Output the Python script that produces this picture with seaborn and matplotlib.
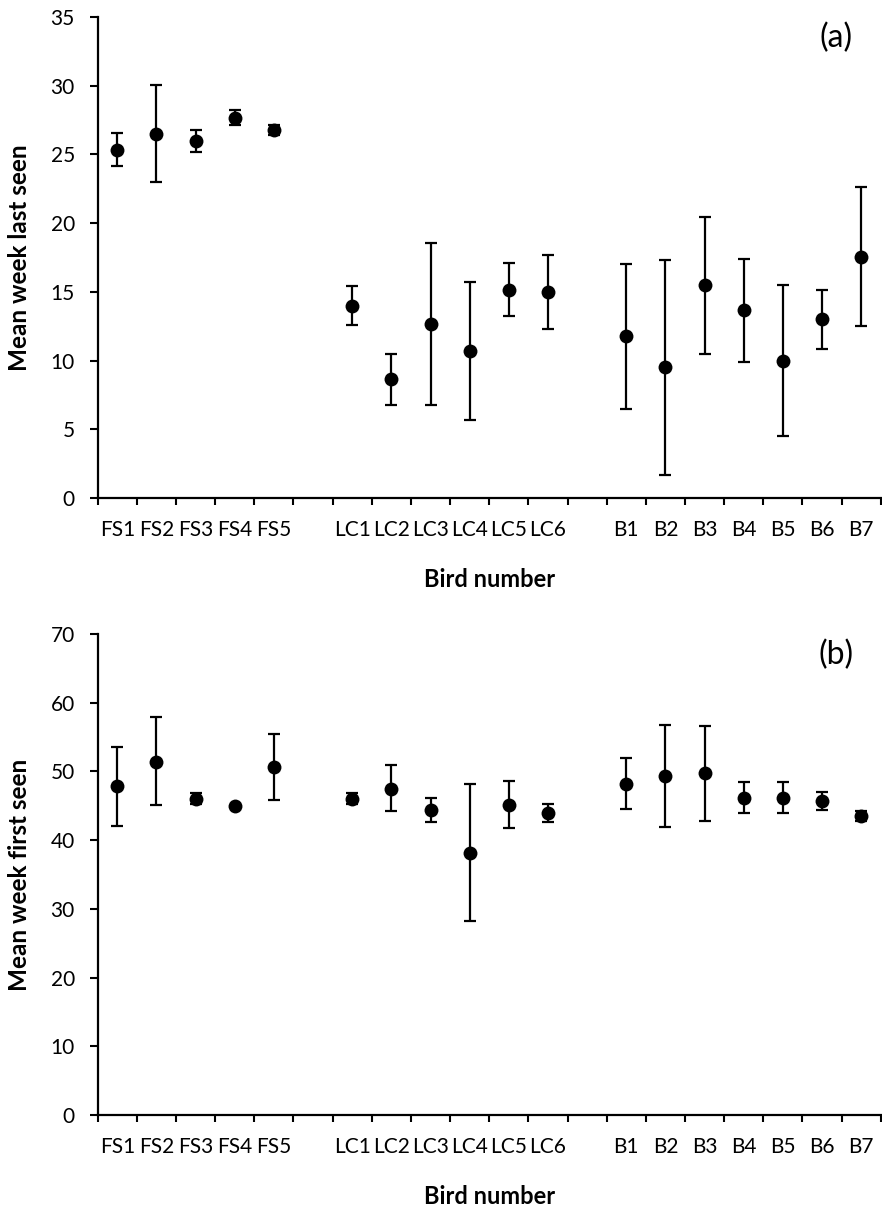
import numpy as np
import pandas as pd
import matplotlib
matplotlib.use('Agg')
import matplotlib.pyplot as plt
import seaborn as sns

# ------------------------------------------------------------
# DATA
# ------------------------------------------------------------
groups = [
    ["FS1", "FS2", "FS3", "FS4", "FS5"],
    ["LC1", "LC2", "LC3", "LC4", "LC5", "LC6"],
    ["B1", "B2", "B3", "B4", "B5", "B6", "B7"],
]

# (a) mean week last seen
last_mean  = [25.3, 26.5, 26.0, 27.65, 26.8,
              14.0, 8.65, 12.65, 10.7, 15.15, 15.0,
              11.8, 9.5, 15.5, 13.65, 10.0, 13.0, 17.55]
last_upper = [26.55, 30.05, 26.8, 28.25, 27.15,
              15.45, 10.5, 18.55, 15.7, 17.1, 17.7,
              17.05, 17.3, 20.45, 17.4, 15.5, 15.15, 22.6]
last_lower = [24.15, 23.0, 25.2, 27.15, 26.45,
              12.6, 6.8, 6.8, 5.7, 13.25, 12.3,
              6.5, 1.7, 10.5, 9.9, 4.5, 10.85, 12.55]

# (b) mean week first seen
first_mean  = [47.85, 51.4, 46.05, 45.0, 50.6,
               46.05, 47.5, 44.4, 38.15, 45.15, 43.9,
               48.2, 49.4, 49.75, 46.2, 46.2, 45.7, 43.55]
first_upper = [53.6, 57.95, 46.9, 45.0, 55.45,
               46.9, 50.95, 46.1, 48.2, 48.55, 45.2,
               51.95, 56.8, 56.65, 48.4, 48.4, 47.05, 44.3]
first_lower = [42.05, 45.15, 45.2, 45.0, 45.85,
               45.2, 44.3, 42.7, 28.3, 41.75, 42.7,
               44.55, 41.85, 42.8, 44.0, 44.0, 44.45, 42.8]

# slot positions: one empty slot between the groups
labels, slots = [], []
slot = 0
for g in groups:
    for name in g:
        labels.append(name)
        slots.append(slot)
        slot += 1
    slot += 1
n_slots = slot - 1  # 20

df = pd.DataFrame({
    "bird": labels,
    "pos": slots,
    "last": last_mean, "last_hi": last_upper, "last_lo": last_lower,
    "first": first_mean, "first_hi": first_upper, "first_lo": first_lower,
})

# ------------------------------------------------------------
# FIGURE
# ------------------------------------------------------------
sns.set_theme(style="white")
plt.rcParams['font.family'] = ['Lato', 'DejaVu Sans']
plt.rcParams['text.color'] = 'black'
plt.rcParams['axes.labelcolor'] = 'black'
plt.rcParams['xtick.color'] = 'black'
plt.rcParams['ytick.color'] = 'black'

fig = plt.figure(figsize=(8.82, 12.09), dpi=100)
ax_a = fig.add_axes([0.1108, 0.5881, 0.8878, 0.3978])
ax_b = fig.add_axes([0.1108, 0.0778, 0.8878, 0.3978])

panels = [
    (ax_a, "last", 35, 5, "Mean week last seen", "(a)"),
    (ax_b, "first", 70, 10, "Mean week first seen", "(b)"),
]

for ax, col, ymax, step, ylab, tag in panels:
    x = df["pos"] + 0.5
    yerr = np.vstack([df[col] - df[col + "_lo"], df[col + "_hi"] - df[col]])
    ax.errorbar(x, df[col], yerr=yerr, fmt="none", ecolor="black",
                elinewidth=1.6, capsize=4.2, capthick=1.6, zorder=2)
    sns.scatterplot(x=x, y=df[col], ax=ax, color="black", s=100,
                    edgecolor="black", linewidth=0, zorder=3, legend=False)

    ax.set_xlim(0, n_slots)
    ax.set_ylim(0, ymax)
    ax.set_yticks(np.arange(0, ymax + 1, step))
    ax.set_xticks(x)
    ax.set_xticklabels(df["bird"])
    ax.set_xticks(np.arange(0, n_slots + 1), minor=True)
    ax.tick_params(axis="x", which="major", length=0, pad=16, labelsize=15)
    ax.tick_params(axis="x", which="minor", length=5, width=1.5,
                   direction="out", bottom=True, color="black")
    ax.tick_params(axis="y", length=5.5, width=1.5, direction="out",
                   left=True, color="black", labelsize=15, pad=11)

    for s in ["top", "right"]:
        ax.spines[s].set_visible(False)
    for s in ["left", "bottom"]:
        ax.spines[s].set_color("black")
        ax.spines[s].set_linewidth(1.6)

    ax.set_xlabel("Bird number", fontsize=17, fontweight="bold", labelpad=20)
    ax.set_ylabel(ylab, fontsize=17.5, fontweight="bold", labelpad=14)
    ax.text(0.943, 0.956, tag, transform=ax.transAxes, fontsize=23,
            ha="center", va="center")

fig.savefig("out.png", dpi=100)
